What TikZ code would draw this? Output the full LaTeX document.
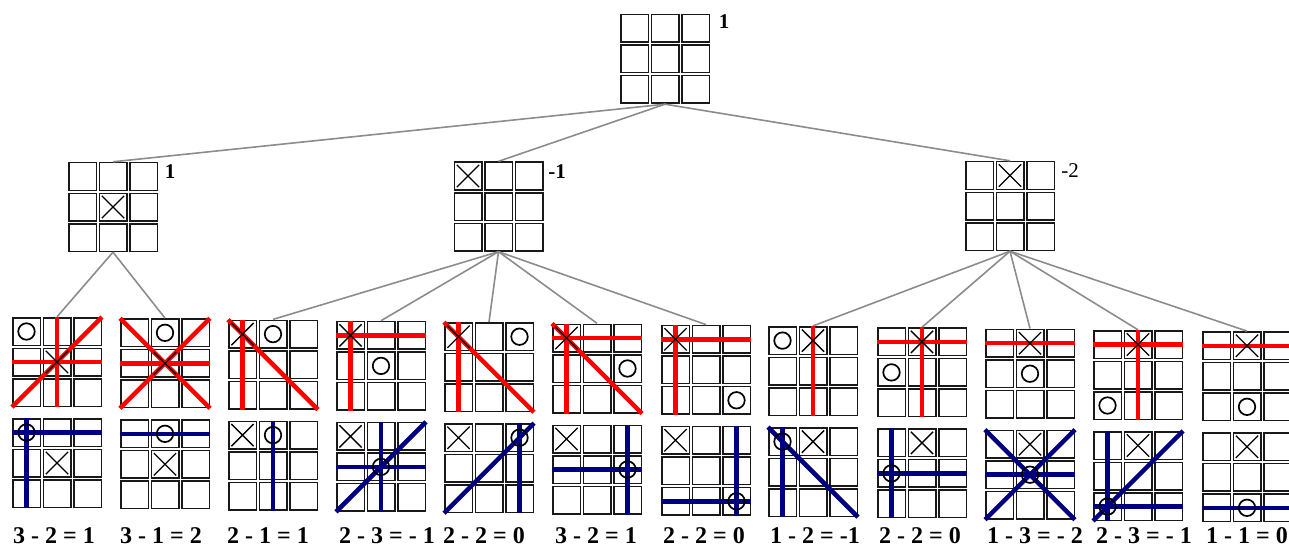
\documentclass[tikz,border=0pt]{standalone}
\usepackage{fontspec}
\setmainfont{Liberation Serif}
\usetikzlibrary{calc,shapes.misc}

\definecolor{xred}{RGB}{255,0,0}
\definecolor{oblue}{RGB}{0,0,128}
\definecolor{linkgray}{RGB}{140,140,140}

\tikzset{
  boardbox/.style={minimum size=90pt,inner sep=0pt},
  cell/.style={draw=black!90,line width=1.5pt,minimum size=27.5pt,inner sep=0pt},
  xmark/.style={cross out,draw=black,line width=1.3pt,minimum size=21pt,inner sep=0pt},
  omark/.style={circle,draw=black,line width=1.7pt,minimum size=16.5pt,inner sep=0pt},
  xline/.style={xred,line width=4.5pt},
  oline/.style={oblue,line width=4.5pt},
  link/.style={linkgray,line width=1.6pt},
  score/.style={font=\fontsize{24}{26}\selectfont\bfseries,inner sep=1pt},
  val/.style={font=\fontsize{21}{24}\selectfont\bfseries},
}

% board = 3x3 cells around a named box
\newcommand\tttboard[3]{%
  \node[boardbox] (#1) at (#2,#3) {};
  \foreach \r in {0,1,2}{%
    \foreach \c in {0,1,2}{%
      \node[cell] (#1-\r\c) at ($(#1)+(\c*30.5-30.5,\r*30.5-30.5)$) {};}}%
}
\newcommand\rowln[3]{\draw[#1] (#2-#30.west) -- (#2-#32.east);}
\newcommand\colln[3]{\draw[#1] (#2-0#3.north) -- (#2-2#3.south);}
\newcommand\diagln[2]{\draw[#1] (#2-00.north west) -- (#2-22.south east);}
\newcommand\antiln[2]{\draw[#1] (#2-20.south west) -- (#2-02.north east);}
\newcommand\mkX[2]{\node[xmark] (#1-x) at (#1-#2) {};}
\newcommand\mkO[2]{\node[omark] (#1-o) at (#1-#2) {};}

\begin{document}
\begin{tikzpicture}[x=1pt,y=-1pt]
  \useasboundingbox (0,0) rectangle (1289,548);

  % root and first moves
  \tttboard{r}{665}{59}
  \tttboard{a}{113}{207}
  \tttboard{b}{498.5}{206.5}
  \tttboard{c}{1010}{206}
  \mkX{a}{11}
  \mkX{b}{00}
  \mkX{c}{01}
  \node[val] (vr) at (724,22) {1};
  \node[val] (va) at (170,172) {1};
  \node[val] (vb) at (557,172) {-1};
  \node[val,font=\fontsize{21}{24}\selectfont] (vc) at (1070,171) {-2};

  % second moves, top row = lines for X, bottom row = lines for O
  \foreach \i/\x/\lx/\s in {1/57/54/{3 - 2 = 1},2/165/161/{3 - 1 = 2},
      3/273/268/{2 - 1 = 1},4/381/387/{2 - 3 = - 1},5/489/484/{2 - 2 = 0},
      6/597/596/{3 - 2 = 1},7/706/704/{2 - 2 = 0},8/813/815/{1 - 2 = -1},
      9/922/920/{2 - 2 = 0},10/1030/1035/{1 - 3 = - 2},
      11/1138/1144/{2 - 3 = - 1},12/1247/1247/{1 - 1 = 0}}{
    \tttboard{t\i}{\x}{360.7+1.3*\i}
    \tttboard{u\i}{\x}{461.7+1.3*\i}
    \node[score] (s\i) at (\lx,536) {\s};
  }

  \foreach \k in {a,b,c} \draw[link] (r.south) -- (\k.north);
  \foreach \k in {1,2} \draw[link] (a.south) -- (t\k.north);
  \foreach \k in {3,...,7} \draw[link] (b.south) -- (t\k.north);
  \foreach \k in {8,...,12} \draw[link] (c.south) -- (t\k.north);

  \colln{xline}{t1}{1} \rowln{xline}{t1}{1} \antiln{xline}{t1}
  \rowln{oline}{u1}{0} \colln{oline}{u1}{0}
  \rowln{xline}{t2}{1} \diagln{xline}{t2} \antiln{xline}{t2}
  \rowln{oline}{u2}{0}
  \colln{xline}{t3}{0} \diagln{xline}{t3}
  \colln{oline}{u3}{1}
  \rowln{xline}{t4}{0} \colln{xline}{t4}{0}
  \colln{oline}{u4}{1} \rowln{oline}{u4}{1} \antiln{oline}{u4}
  \colln{xline}{t5}{0} \diagln{xline}{t5}
  \antiln{oline}{u5} \colln{oline}{u5}{2}
  \rowln{xline}{t6}{0} \colln{xline}{t6}{0} \diagln{xline}{t6}
  \rowln{oline}{u6}{1} \colln{oline}{u6}{2}
  \rowln{xline}{t7}{0} \colln{xline}{t7}{0}
  \colln{oline}{u7}{2} \rowln{oline}{u7}{2}
  \colln{xline}{t8}{1}
  \colln{oline}{u8}{0} \diagln{oline}{u8}
  \rowln{xline}{t9}{0} \colln{xline}{t9}{1}
  \colln{oline}{u9}{0} \rowln{oline}{u9}{1}
  \rowln{xline}{t10}{0}
  \diagln{oline}{u10} \antiln{oline}{u10} \rowln{oline}{u10}{1}
  \rowln{xline}{t11}{0} \colln{xline}{t11}{1}
  \colln{oline}{u11}{0} \antiln{oline}{u11} \rowln{oline}{u11}{2}
  \rowln{xline}{t12}{0}
  \rowln{oline}{u12}{2}

  % marks on top of the lines
  \foreach \i/\xc/\oc in {1/11/00,2/11/01,3/00/01,4/00/11,5/00/02,6/00/12,
      7/00/22,8/01/00,9/01/10,10/01/11,11/01/20,12/01/21}{
    \mkX{t\i}{\xc} \mkO{t\i}{\oc}
    \mkX{u\i}{\xc} \mkO{u\i}{\oc}
  }
\end{tikzpicture}
\end{document}
